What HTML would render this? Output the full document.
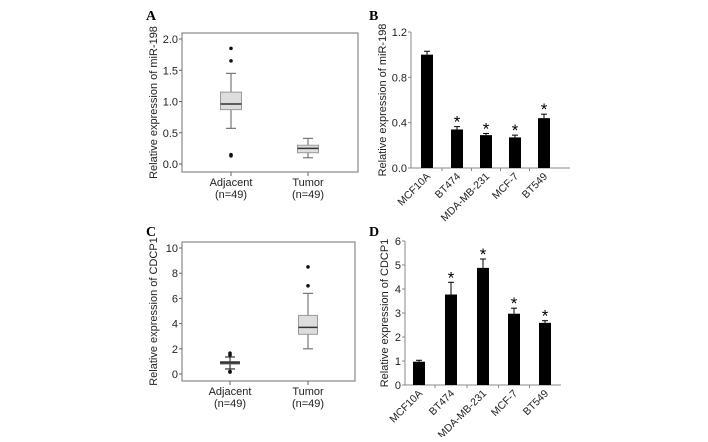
<!DOCTYPE html>
<html><head><meta charset="utf-8"><style>
body{margin:0;background:#fff;}
svg{font-family:"Liberation Sans",Arial,sans-serif;}
</style></head><body>
<svg width="708" height="437" viewBox="0 0 708 437" xmlns="http://www.w3.org/2000/svg">
<g id="root"></g>
</svg>
<script>
const boxCats=["Adjacent","Tumor"];
const boxA=[[0.57,0.87,0.96,1.15,1.45],[0.10,0.18,0.25,0.30,0.41]];
const outA=[[1.85,1.65,0.15,0.13],[]];
const boxC=[[0.4,0.8,0.9,0.98,1.35],[2.0,3.15,3.7,4.65,6.4]];
const outC=[[1.65,1.5,0.15,0.2],[8.5,7.0]];
const cells=["MCF10A","BT474","MDA-MB-231","MCF-7","BT549"];
const valB=[1.0,0.34,0.29,0.27,0.44];
const errB=[0.03,0.025,0.015,0.02,0.035];
const sigB=[false,true,true,true,true];
const valD=[0.97,3.77,4.88,2.97,2.59];
const errD=[0.06,0.51,0.37,0.23,0.09];
const sigD=[false,true,true,true,true];
const ticksA=[0,0.5,1.0,1.5,2.0],ticksC=[0,2,4,6,8,10],ticksB=[0,0.4,0.8,1.2],ticksD=[0,1,2,3,4,5,6];

const NS="http://www.w3.org/2000/svg",root=document.getElementById('root');
function el(t,a,p,txt){const e=document.createElementNS(NS,t);for(const k in a)e.setAttribute(k,a[k]);if(txt!==undefined)e.textContent=txt;(p||root).appendChild(e);return e;}
function lbl(txt,x,y){const t=el('text',{x:x,y:y,'font-family':'Liberation Serif,serif','font-weight':'bold','font-size':14},root,txt);

}

function boxPanel(id,fr,y0v,y1v,yt0,yt1,ticks,fmt,stats,outs,xc,bw,title,darkAdj){
  const g=el('g',{});
  
  
  const y=v=>yt0+(v-y0v)/(y1v-y0v)*(yt1-yt0);
  const fr_=el('rect',{x:fr[0],y:fr[1],width:fr[2]-fr[0],height:fr[3]-fr[1],fill:'#fff',stroke:'#888','stroke-width':1.2},g);
  
  
  ticks.forEach(v=>{el('line',{x1:fr[0]-3,x2:fr[0],y1:y(v),y2:y(v),stroke:'#666'},g);
    const t=el('text',{x:fr[0]-4,y:y(v)+4,'text-anchor':'end','font-size':11,fill:'#222'},g,fmt(v));
    
    });
  const tt=el('text',{transform:`translate(${fr[0]-25},${(fr[1]+fr[3])/2}) rotate(-90)`,'text-anchor':'middle','font-size':11,fill:'#222'},g,title);
  
  
  boxCats.forEach((c,i)=>{
    const s=stats[i],cx=xc[i];
    el('line',{x1:cx,y1:fr[3],x2:cx,y2:fr[3]+4,stroke:'#666'},g);
    const l1=el('text',{x:cx,y:fr[3]+14,'text-anchor':'middle','font-size':11,fill:'#222'},g,c);
    
    
    const l2=el('text',{x:cx,y:fr[3]+26,'text-anchor':'middle','font-size':11,fill:'#222'},g,'(n=49)');
    
    
    const dark=darkAdj&&i===0;
    const col=dark?'#333':'#777';
    el('line',{x1:cx,x2:cx,y1:y(s[0]),y2:y(s[4]),stroke:col,'stroke-width':1.2},g);
    el('line',{x1:cx-5,x2:cx+5,y1:y(s[0]),y2:y(s[0]),stroke:col,'stroke-width':1.2},g);
    el('line',{x1:cx-5,x2:cx+5,y1:y(s[4]),y2:y(s[4]),stroke:col,'stroke-width':1.2},g);
    const b=el('rect',{x:cx-bw/2,y:y(s[3]),width:bw,height:Math.max(2,y(s[1])-y(s[3])),fill:dark?'#666':'#ddd',stroke:dark?'#555':'#999'},g);
    
    
    el('line',{x1:cx-bw/2,x2:cx+bw/2,y1:y(s[2]),y2:y(s[2]),stroke:'#333','stroke-width':1.5},g);
    outs[i].forEach(v=>{const o=el('circle',{cx:cx,cy:y(v),r:1.8,fill:'#111'},g);
      
      });
  });
}
function barPanel(id,ax,x1,y0v,y1v,yt0,yt1,ticks,fmt,vals,errs,sig,xc,bw,title,titleX){
  const g=el('g',{});
  
  
  const y=v=>yt0+(v-y0v)/(y1v-y0v)*(yt1-yt0);
  el('line',{x1:ax,x2:ax,y1:yt1,y2:yt0,stroke:'#888'},g);
  el('line',{x1:ax,x2:x1,y1:yt0,y2:yt0,stroke:'#888'},g);
  ticks.forEach(v=>{el('line',{x1:ax-3,x2:ax,y1:y(v),y2:y(v),stroke:'#888'},g);
    const t=el('text',{x:ax-4,y:y(v)+4,'text-anchor':'end','font-size':11,fill:'#222'},g,fmt(v));
    
    });
  const tt=el('text',{transform:`translate(${titleX},${(yt0+yt1)/2}) rotate(-90)`,'text-anchor':'middle','font-size':11,fill:'#222'},g,title);
  
  
  cells.forEach((c,i)=>{
    const cx=xc[i];
    if(i>0){const tx=(xc[i-1]+cx)/2;el('line',{x1:tx,x2:tx,y1:yt0,y2:yt0+3,stroke:'#888'},g);}
    const b=el('rect',{x:cx-bw/2,y:y(vals[i]),width:bw,height:yt0-y(vals[i]),fill:'#000'},g);
    
    
    const et=y(vals[i]+errs[i]);
    el('line',{x1:cx,x2:cx,y1:y(vals[i]),y2:et,stroke:'#000'},g);
    el('line',{x1:cx-3,x2:cx+3,y1:et,y2:et,stroke:'#000'},g);
    if(sig[i]){const s=el('text',{x:cx,y:et+1,'text-anchor':'middle','font-size':17,fill:'#000'},g,'*');
      
      }
    const l=el('text',{transform:`translate(${cx+4},${yt0+9}) rotate(-45)`,'text-anchor':'end','font-size':10.5,fill:'#222'},g,c);
    
    
  });
}
lbl('A',146,20);lbl('B',369,20);lbl('C',146,236);lbl('D',369,236);
boxPanel('a',[182,33,358,172],0,2,164,39,ticksA,v=>v.toFixed(1),boxA,outA,[231,308],21,'Relative expression of miR-198',false);
boxPanel('c',[182,242,355,381],0,10,374,248,ticksC,v=>String(v),boxC,outC,[230,308],19,'Relative expression of CDCP1',true);
barPanel('b',411,570,0,1.2,168,32,ticksB,v=>v.toFixed(1),valB,errB,sigB,[427,457,486,515,544],12,'Relative expression of miR-198',386);
barPanel('d',405,561,0,6,385,241,ticksD,v=>String(v),valD,errD,sigD,[419,451,483,514,545],12,'Relative expression of CDCP1',388);
</script>
</body></html>
